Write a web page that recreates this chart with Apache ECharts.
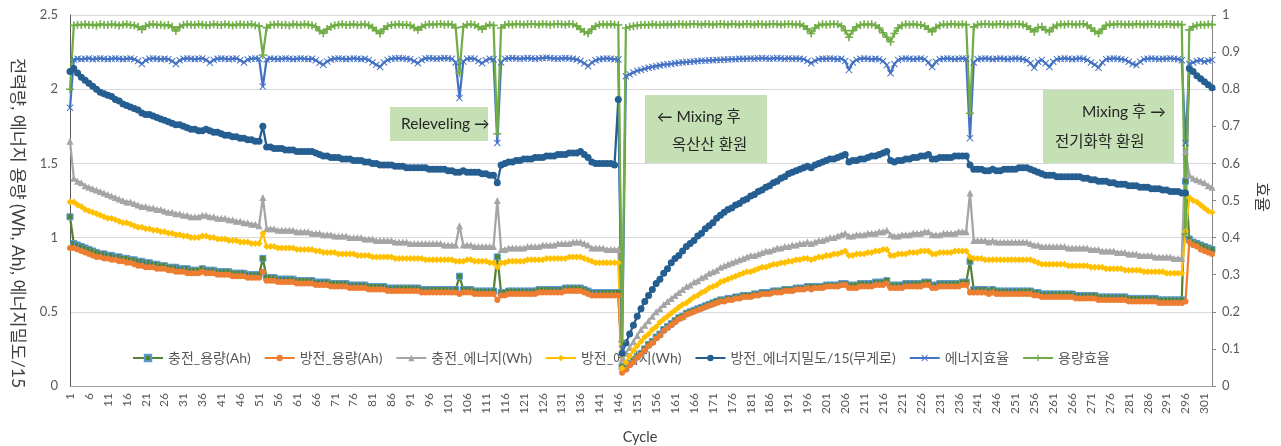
<!DOCTYPE html>
<html>
<head>
<meta charset="utf-8">
<script src="https://cdn.jsdelivr.net/npm/echarts@6/dist/echarts.min.js"></script>
<style>
  html, body { margin: 0; padding: 0; background: #ffffff; }
  #chart { width: 1281px; height: 446px; }
</style>
</head>
<body>
<div id="chart"></div>
<script>
// Cycle numbers 1..303 (category axis)
const cycles = Array.from({ length: 303 }, (_, i) => String(i + 1));

const leftTicks = { min: 0, max: 2.5, interval: 0.5 };
const rightTicks = { min: 0, max: 1, interval: 0.1 };

// 충전_용량(Ah)
const chargeCap = [
  1.14,0.96,0.95,0.94,0.93,0.92,0.91,0.90,0.89,0.89,
  0.88,0.88,0.87,0.87,0.86,0.86,0.85,0.85,0.84,0.84,
  0.83,0.83,0.82,0.82,0.81,0.81,0.80,0.80,0.80,0.79,
  0.79,0.79,0.78,0.78,0.78,0.79,0.78,0.78,0.78,0.77,
  0.77,0.77,0.77,0.76,0.76,0.76,0.76,0.75,0.75,0.75,
  0.75,0.86,0.73,0.73,0.73,0.72,0.72,0.72,0.72,0.72,
  0.71,0.71,0.71,0.71,0.71,0.70,0.70,0.70,0.70,0.69,
  0.69,0.69,0.69,0.69,0.68,0.68,0.68,0.68,0.68,0.67,
  0.67,0.67,0.67,0.67,0.66,0.66,0.66,0.66,0.66,0.66,
  0.66,0.66,0.66,0.65,0.65,0.65,0.65,0.65,0.65,0.65,
  0.65,0.65,0.65,0.74,0.65,0.65,0.65,0.64,0.64,0.64,
  0.64,0.64,0.64,0.87,0.63,0.63,0.64,0.64,0.64,0.64,
  0.64,0.64,0.64,0.64,0.65,0.65,0.65,0.65,0.65,0.65,
  0.65,0.66,0.66,0.66,0.66,0.66,0.65,0.64,0.63,0.63,
  0.63,0.63,0.63,0.63,0.63,0.63,0.13,0.12,0.15,0.17,
  0.20,0.22,0.25,0.28,0.30,0.33,0.35,0.38,0.40,0.42,
  0.44,0.46,0.47,0.49,0.50,0.51,0.52,0.53,0.54,0.55,
  0.56,0.57,0.58,0.58,0.59,0.59,0.60,0.60,0.61,0.61,
  0.61,0.62,0.62,0.63,0.63,0.63,0.64,0.64,0.64,0.65,
  0.65,0.65,0.66,0.66,0.66,0.67,0.67,0.67,0.67,0.67,
  0.68,0.68,0.68,0.68,0.69,0.69,0.68,0.68,0.68,0.69,
  0.69,0.69,0.69,0.70,0.70,0.70,0.71,0.68,0.68,0.68,
  0.68,0.69,0.69,0.69,0.69,0.69,0.70,0.70,0.68,0.68,
  0.69,0.69,0.69,0.69,0.69,0.69,0.70,0.70,0.84,0.65,
  0.65,0.65,0.65,0.64,0.65,0.64,0.64,0.64,0.64,0.64,
  0.64,0.64,0.64,0.64,0.64,0.63,0.63,0.62,0.62,0.62,
  0.62,0.62,0.62,0.62,0.62,0.62,0.61,0.61,0.61,0.61,
  0.61,0.61,0.60,0.60,0.60,0.60,0.60,0.60,0.60,0.60,
  0.59,0.59,0.59,0.59,0.59,0.59,0.59,0.59,0.58,0.58,
  0.58,0.58,0.58,0.58,0.58,1.38,0.99,0.97,0.96,0.95,
  0.94,0.93,0.92
];

// 방전_용량(Ah)
const dischargeCap = [
  0.93,0.93,0.92,0.91,0.90,0.89,0.88,0.87,0.87,0.86,
  0.86,0.85,0.85,0.84,0.84,0.83,0.83,0.82,0.81,0.81,
  0.80,0.80,0.80,0.79,0.79,0.79,0.78,0.78,0.77,0.77,
  0.77,0.76,0.76,0.76,0.76,0.77,0.76,0.76,0.76,0.75,
  0.75,0.75,0.75,0.74,0.74,0.74,0.74,0.73,0.73,0.73,
  0.73,0.77,0.71,0.71,0.71,0.70,0.70,0.70,0.70,0.70,
  0.69,0.69,0.69,0.69,0.69,0.68,0.68,0.68,0.68,0.67,
  0.67,0.67,0.67,0.67,0.66,0.66,0.66,0.66,0.66,0.65,
  0.65,0.65,0.65,0.65,0.64,0.64,0.64,0.64,0.64,0.64,
  0.64,0.64,0.64,0.63,0.63,0.63,0.63,0.63,0.63,0.63,
  0.63,0.63,0.63,0.62,0.63,0.63,0.63,0.62,0.62,0.62,
  0.62,0.62,0.62,0.58,0.61,0.61,0.62,0.62,0.62,0.62,
  0.62,0.62,0.62,0.62,0.63,0.63,0.63,0.63,0.63,0.63,
  0.63,0.64,0.64,0.64,0.64,0.64,0.63,0.62,0.61,0.61,
  0.61,0.61,0.61,0.61,0.61,0.61,0.09,0.11,0.14,0.16,
  0.19,0.21,0.24,0.27,0.29,0.32,0.34,0.37,0.39,0.41,
  0.43,0.45,0.46,0.48,0.49,0.50,0.51,0.52,0.53,0.54,
  0.55,0.56,0.57,0.57,0.58,0.58,0.59,0.59,0.60,0.60,
  0.60,0.61,0.61,0.62,0.62,0.62,0.63,0.63,0.63,0.64,
  0.64,0.64,0.65,0.65,0.65,0.66,0.65,0.66,0.66,0.66,
  0.67,0.67,0.67,0.67,0.68,0.68,0.66,0.66,0.66,0.67,
  0.67,0.67,0.67,0.68,0.68,0.68,0.69,0.66,0.66,0.66,
  0.66,0.67,0.67,0.67,0.67,0.67,0.68,0.68,0.66,0.66,
  0.67,0.67,0.67,0.67,0.67,0.67,0.68,0.68,0.63,0.63,
  0.63,0.63,0.63,0.62,0.63,0.62,0.62,0.62,0.62,0.62,
  0.62,0.62,0.62,0.62,0.62,0.61,0.61,0.60,0.60,0.60,
  0.60,0.60,0.60,0.60,0.60,0.60,0.59,0.59,0.59,0.59,
  0.59,0.59,0.58,0.58,0.58,0.58,0.58,0.58,0.58,0.58,
  0.57,0.57,0.57,0.57,0.57,0.57,0.57,0.57,0.56,0.56,
  0.56,0.56,0.56,0.56,0.56,0.57,0.97,0.95,0.94,0.92,
  0.91,0.90,0.89
];

// 충전_에너지(Wh)
const chargeEnergy = [
  1.65,1.40,1.38,1.37,1.35,1.34,1.33,1.32,1.31,1.30,
  1.29,1.28,1.27,1.26,1.25,1.24,1.24,1.23,1.22,1.21,
  1.21,1.20,1.20,1.19,1.19,1.18,1.17,1.17,1.16,1.16,
  1.15,1.15,1.14,1.14,1.14,1.15,1.15,1.14,1.14,1.13,
  1.13,1.13,1.12,1.12,1.11,1.11,1.10,1.10,1.09,1.09,
  1.08,1.27,1.06,1.06,1.06,1.05,1.05,1.05,1.05,1.05,
  1.04,1.04,1.04,1.04,1.03,1.03,1.03,1.02,1.02,1.02,
  1.01,1.01,1.01,1.01,1.00,1.00,1.00,1.00,0.99,0.99,
  0.99,0.98,0.98,0.98,0.98,0.98,0.97,0.97,0.97,0.97,
  0.96,0.96,0.96,0.96,0.96,0.96,0.96,0.96,0.96,0.95,
  0.95,0.95,0.95,1.08,0.95,0.95,0.95,0.94,0.94,0.94,
  0.94,0.94,0.94,1.25,0.92,0.92,0.93,0.93,0.93,0.93,
  0.93,0.94,0.94,0.94,0.94,0.95,0.95,0.95,0.95,0.96,
  0.96,0.96,0.96,0.97,0.97,0.97,0.96,0.95,0.93,0.93,
  0.93,0.93,0.92,0.92,0.92,0.92,0.18,0.22,0.26,0.30,
  0.34,0.38,0.41,0.44,0.47,0.50,0.52,0.55,0.57,0.59,
  0.61,0.63,0.65,0.67,0.68,0.70,0.71,0.73,0.74,0.76,
  0.77,0.78,0.80,0.81,0.82,0.83,0.84,0.85,0.86,0.87,
  0.88,0.88,0.89,0.90,0.91,0.91,0.92,0.93,0.93,0.94,
  0.94,0.95,0.95,0.96,0.96,0.97,0.96,0.97,0.98,0.98,
  0.99,1.00,1.00,1.01,1.02,1.03,1.01,1.01,1.02,1.02,
  1.02,1.03,1.03,1.03,1.04,1.04,1.05,1.02,1.01,1.01,
  1.02,1.02,1.02,1.03,1.03,1.03,1.04,1.04,1.02,1.02,
  1.02,1.03,1.03,1.03,1.03,1.04,1.04,1.04,1.30,0.98,
  0.98,0.98,0.98,0.97,0.98,0.97,0.97,0.97,0.97,0.97,
  0.97,0.97,0.97,0.97,0.96,0.95,0.95,0.94,0.94,0.94,
  0.94,0.94,0.94,0.94,0.93,0.93,0.93,0.93,0.93,0.93,
  0.92,0.92,0.92,0.91,0.91,0.91,0.91,0.90,0.90,0.90,
  0.89,0.89,0.89,0.88,0.88,0.88,0.88,0.87,0.87,0.87,
  0.87,0.87,0.86,0.86,0.86,1.58,1.42,1.40,1.39,1.38,
  1.37,1.35,1.34
];

// 방전_에너지(Wh)
const dischargeEnergy = [
  1.24,1.24,1.22,1.21,1.19,1.18,1.17,1.16,1.15,1.14,
  1.13,1.13,1.12,1.11,1.10,1.10,1.09,1.08,1.07,1.07,
  1.06,1.06,1.05,1.05,1.04,1.04,1.03,1.03,1.02,1.02,
  1.01,1.01,1.00,1.00,1.00,1.01,1.01,1.00,1.00,0.99,
  0.99,0.99,0.98,0.98,0.98,0.97,0.97,0.97,0.96,0.96,
  0.96,1.03,0.94,0.94,0.94,0.93,0.93,0.93,0.93,0.93,
  0.92,0.92,0.92,0.92,0.92,0.91,0.91,0.90,0.90,0.90,
  0.90,0.89,0.89,0.89,0.89,0.89,0.88,0.88,0.88,0.88,
  0.87,0.87,0.87,0.87,0.87,0.87,0.86,0.86,0.86,0.86,
  0.86,0.86,0.86,0.86,0.85,0.85,0.85,0.85,0.85,0.85,
  0.85,0.85,0.84,0.84,0.84,0.85,0.85,0.84,0.84,0.84,
  0.84,0.83,0.83,0.80,0.83,0.83,0.84,0.84,0.84,0.84,
  0.84,0.85,0.85,0.85,0.85,0.85,0.86,0.86,0.86,0.86,
  0.86,0.86,0.87,0.87,0.87,0.87,0.86,0.85,0.84,0.83,
  0.83,0.83,0.83,0.83,0.83,0.83,0.12,0.16,0.20,0.24,
  0.27,0.30,0.33,0.35,0.38,0.40,0.43,0.45,0.47,0.49,
  0.51,0.53,0.55,0.56,0.58,0.60,0.61,0.63,0.64,0.66,
  0.67,0.68,0.70,0.71,0.72,0.73,0.74,0.75,0.76,0.77,
  0.77,0.78,0.79,0.80,0.80,0.81,0.82,0.82,0.83,0.83,
  0.84,0.84,0.85,0.85,0.86,0.86,0.85,0.86,0.87,0.87,
  0.88,0.88,0.89,0.89,0.90,0.91,0.88,0.88,0.89,0.89,
  0.89,0.90,0.90,0.91,0.91,0.92,0.92,0.88,0.88,0.89,
  0.89,0.89,0.90,0.90,0.90,0.91,0.91,0.91,0.89,0.89,
  0.90,0.90,0.90,0.90,0.91,0.91,0.91,0.91,0.87,0.86,
  0.86,0.86,0.85,0.85,0.85,0.85,0.85,0.85,0.85,0.85,
  0.85,0.85,0.85,0.85,0.85,0.84,0.83,0.82,0.82,0.82,
  0.82,0.82,0.82,0.82,0.81,0.81,0.81,0.81,0.81,0.81,
  0.80,0.80,0.80,0.80,0.79,0.79,0.79,0.79,0.79,0.78,
  0.78,0.78,0.78,0.78,0.77,0.77,0.77,0.77,0.77,0.77,
  0.76,0.76,0.76,0.76,0.76,1.04,1.27,1.25,1.24,1.22,
  1.20,1.18,1.17
];

// 방전_에너지밀도/15(무게로)
const energyDensity = [
  2.12,2.14,2.11,2.08,2.06,2.04,2.02,2.00,1.98,1.97,
  1.96,1.95,1.93,1.92,1.90,1.89,1.88,1.87,1.86,1.84,
  1.83,1.83,1.82,1.81,1.80,1.79,1.78,1.77,1.76,1.76,
  1.75,1.74,1.73,1.73,1.72,1.72,1.73,1.72,1.71,1.71,
  1.70,1.69,1.69,1.68,1.68,1.67,1.67,1.66,1.66,1.65,
  1.65,1.75,1.61,1.61,1.60,1.60,1.60,1.59,1.59,1.59,
  1.58,1.58,1.58,1.58,1.58,1.57,1.56,1.55,1.55,1.54,
  1.54,1.54,1.53,1.53,1.53,1.52,1.52,1.52,1.51,1.51,
  1.50,1.50,1.49,1.49,1.49,1.49,1.48,1.48,1.48,1.47,
  1.47,1.47,1.47,1.47,1.47,1.46,1.46,1.46,1.46,1.46,
  1.45,1.45,1.44,1.44,1.45,1.44,1.44,1.44,1.44,1.43,
  1.43,1.42,1.42,1.37,1.49,1.50,1.51,1.51,1.52,1.52,
  1.53,1.53,1.53,1.54,1.54,1.54,1.55,1.55,1.55,1.56,
  1.56,1.56,1.57,1.57,1.57,1.58,1.56,1.54,1.51,1.50,
  1.50,1.50,1.50,1.50,1.49,1.93,0.22,0.29,0.35,0.41,
  0.47,0.52,0.57,0.61,0.65,0.69,0.72,0.76,0.79,0.83,
  0.86,0.88,0.91,0.94,0.96,0.98,1.01,1.03,1.06,1.08,
  1.10,1.13,1.15,1.17,1.19,1.20,1.22,1.23,1.25,1.26,
  1.28,1.29,1.31,1.32,1.34,1.35,1.37,1.38,1.40,1.41,
  1.43,1.44,1.45,1.46,1.47,1.48,1.47,1.49,1.50,1.51,
  1.52,1.53,1.53,1.54,1.55,1.56,1.51,1.52,1.52,1.53,
  1.53,1.54,1.55,1.55,1.56,1.57,1.58,1.52,1.51,1.52,
  1.52,1.53,1.53,1.54,1.54,1.55,1.55,1.56,1.53,1.53,
  1.54,1.54,1.54,1.54,1.55,1.55,1.55,1.55,1.49,1.46,
  1.46,1.46,1.45,1.45,1.46,1.45,1.45,1.46,1.46,1.46,
  1.46,1.47,1.47,1.47,1.46,1.45,1.44,1.43,1.42,1.42,
  1.42,1.41,1.41,1.41,1.41,1.41,1.41,1.41,1.40,1.40,
  1.39,1.39,1.38,1.38,1.38,1.37,1.37,1.36,1.36,1.36,
  1.35,1.35,1.35,1.34,1.34,1.34,1.33,1.33,1.33,1.32,
  1.32,1.31,1.31,1.31,1.30,1.30,2.14,2.12,2.09,2.07,
  2.05,2.03,2.01
];

// 에너지효율 (right axis)
const energyEff = [
  0.750,0.880,0.882,0.881,0.882,0.883,0.881,0.882,0.883,0.882,
  0.881,0.882,0.883,0.882,0.881,0.882,0.883,0.881,0.876,0.868,
  0.878,0.882,0.883,0.882,0.881,0.882,0.881,0.876,0.868,0.878,
  0.882,0.883,0.882,0.881,0.882,0.883,0.879,0.871,0.879,0.882,
  0.883,0.882,0.881,0.882,0.883,0.878,0.872,0.880,0.882,0.883,
  0.882,0.807,0.880,0.883,0.882,0.881,0.882,0.883,0.882,0.881,
  0.882,0.883,0.882,0.881,0.882,0.878,0.871,0.866,0.875,0.880,
  0.882,0.883,0.882,0.881,0.882,0.883,0.882,0.881,0.882,0.879,
  0.872,0.866,0.860,0.872,0.879,0.882,0.883,0.884,0.883,0.882,
  0.881,0.876,0.870,0.879,0.883,0.884,0.883,0.882,0.883,0.884,
  0.883,0.882,0.872,0.776,0.875,0.882,0.883,0.882,0.876,0.870,
  0.878,0.882,0.880,0.655,0.872,0.882,0.883,0.884,0.883,0.882,
  0.883,0.884,0.883,0.882,0.883,0.884,0.885,0.884,0.883,0.882,
  0.883,0.884,0.883,0.882,0.880,0.876,0.870,0.862,0.872,0.878,
  0.881,0.882,0.883,0.882,0.881,0.880,0.100,0.835,0.840,0.845,
  0.850,0.852,0.855,0.858,0.860,0.862,0.864,0.866,0.867,0.868,
  0.870,0.871,0.872,0.873,0.874,0.875,0.876,0.877,0.877,0.878,
  0.878,0.879,0.879,0.880,0.880,0.881,0.881,0.882,0.882,0.882,
  0.883,0.882,0.883,0.884,0.883,0.882,0.883,0.884,0.883,0.882,
  0.883,0.882,0.883,0.882,0.881,0.876,0.870,0.877,0.881,0.882,
  0.882,0.883,0.882,0.881,0.882,0.876,0.852,0.872,0.879,0.882,
  0.883,0.882,0.881,0.882,0.881,0.876,0.865,0.843,0.868,0.879,
  0.882,0.883,0.882,0.881,0.882,0.883,0.881,0.872,0.860,0.874,
  0.881,0.882,0.883,0.882,0.881,0.882,0.883,0.882,0.668,0.872,
  0.881,0.882,0.883,0.882,0.881,0.882,0.883,0.882,0.881,0.882,
  0.883,0.882,0.881,0.878,0.870,0.858,0.874,0.879,0.870,0.860,
  0.874,0.881,0.882,0.883,0.882,0.881,0.882,0.883,0.882,0.879,
  0.872,0.866,0.858,0.872,0.881,0.882,0.883,0.882,0.881,0.879,
  0.874,0.868,0.865,0.874,0.881,0.882,0.883,0.882,0.881,0.882,
  0.882,0.883,0.882,0.881,0.878,0.655,0.868,0.872,0.876,0.878,
  0.874,0.877,0.879
];

// 용량효율 (right axis)
const capacityEff = [
  0.800,0.972,0.974,0.973,0.975,0.973,0.974,0.972,0.975,0.974,
  0.973,0.975,0.974,0.972,0.974,0.975,0.973,0.972,0.968,0.961,
  0.970,0.974,0.975,0.973,0.974,0.972,0.973,0.968,0.957,0.968,
  0.973,0.975,0.974,0.973,0.975,0.974,0.972,0.973,0.975,0.974,
  0.973,0.975,0.974,0.972,0.974,0.975,0.973,0.974,0.975,0.972,
  0.970,0.892,0.966,0.973,0.974,0.975,0.973,0.974,0.972,0.975,
  0.974,0.973,0.975,0.974,0.972,0.968,0.958,0.951,0.962,0.968,
  0.972,0.974,0.975,0.973,0.974,0.975,0.973,0.974,0.975,0.972,
  0.966,0.958,0.950,0.962,0.970,0.973,0.974,0.975,0.973,0.974,
  0.972,0.966,0.960,0.968,0.973,0.975,0.974,0.975,0.976,0.974,
  0.975,0.974,0.966,0.843,0.968,0.974,0.975,0.973,0.968,0.962,
  0.970,0.974,0.972,0.680,0.965,0.973,0.975,0.974,0.976,0.975,
  0.974,0.975,0.976,0.975,0.974,0.976,0.975,0.974,0.975,0.976,
  0.975,0.974,0.976,0.975,0.970,0.962,0.955,0.950,0.962,0.970,
  0.974,0.975,0.974,0.975,0.974,0.973,0.120,0.965,0.968,0.970,
  0.972,0.973,0.974,0.973,0.975,0.974,0.973,0.975,0.974,0.975,
  0.974,0.976,0.975,0.974,0.975,0.976,0.975,0.974,0.976,0.975,
  0.974,0.975,0.976,0.975,0.974,0.976,0.975,0.974,0.975,0.976,
  0.975,0.974,0.976,0.975,0.974,0.975,0.976,0.975,0.974,0.975,
  0.976,0.975,0.974,0.975,0.970,0.962,0.950,0.965,0.972,0.975,
  0.974,0.975,0.976,0.975,0.970,0.958,0.940,0.958,0.968,0.973,
  0.975,0.974,0.975,0.972,0.965,0.952,0.940,0.928,0.950,0.965,
  0.972,0.975,0.974,0.975,0.974,0.973,0.970,0.962,0.955,0.966,
  0.972,0.975,0.974,0.976,0.975,0.974,0.975,0.974,0.735,0.968,
  0.974,0.975,0.976,0.975,0.974,0.975,0.976,0.975,0.974,0.975,
  0.976,0.975,0.974,0.970,0.962,0.955,0.966,0.968,0.960,0.955,
  0.966,0.972,0.975,0.974,0.976,0.975,0.974,0.975,0.976,0.972,
  0.965,0.956,0.950,0.962,0.972,0.975,0.974,0.976,0.975,0.974,
  0.975,0.974,0.976,0.975,0.974,0.975,0.976,0.975,0.974,0.975,
  0.976,0.975,0.974,0.975,0.974,0.410,0.960,0.968,0.972,0.974,
  0.973,0.975,0.974
];

const FONT = "Lato, 'Noto Sans CJK KR', sans-serif";
const TEXT_GREY = '#595959';

const crossSymbol = 'path://M1,0L5,4L9,0L10,1L6,5L10,9L9,10L5,6L1,10L0,9L4,5L0,1Z';
const plusSymbol = 'path://M4,0H6V4H10V6H6V10H4V6H0V4H4Z';

function line(name, data, color, symbol, size, yAxisIndex, itemExtra) {
  return {
    name: name,
    type: 'line',
    data: data,
    yAxisIndex: yAxisIndex,
    symbol: symbol,
    symbolSize: size,
    showAllSymbol: true,
    animation: false,
    z: 2,
    lineStyle: { color: color, width: 2.25 },
    itemStyle: Object.assign({ color: color }, itemExtra || {}),
    emphasis: { disabled: true }
  };
}

const series = [
  line('충전_용량(Ah)', chargeCap, '#548235', 'rect', 6, 0, { borderColor: '#5B9BD5', borderWidth: 1 }),
  line('방전_용량(Ah)', dischargeCap, '#ED7D31', 'circle', 6, 0),
  line('충전_에너지(Wh)', chargeEnergy, '#A5A5A5', 'triangle', 7, 0),
  line('방전_에너지(Wh)', dischargeEnergy, '#FFC000', 'diamond', 7, 0),
  line('방전_에너지밀도/15(무게로)', energyDensity, '#255E91', 'circle', 7, 0),
  line('에너지효율', energyEff, '#4472C4', crossSymbol, 7, 1),
  line('용량효율', capacityEff, '#70AD47', plusSymbol, 8, 1)
];

function noteBox(x, y, w, h) {
  return { type: 'rect', z: 10, shape: { x: x, y: y, width: w, height: h }, style: { fill: '#C5E0B4' } };
}
function noteText(x, y, text) {
  return {
    type: 'text', z: 11, x: x, y: y,
    style: { text: text, fontSize: 15.5, fontFamily: FONT, fill: '#262626', align: 'left', verticalAlign: 'middle' }
  };
}

const chart = echarts.init(document.getElementById('chart'), null, { renderer: 'canvas' });
chart.setOption({
  backgroundColor: '#ffffff',
  animation: false,
  textStyle: { fontFamily: FONT },
  grid: { left: 70, right: 69, top: 15, bottom: 60, containLabel: false },
  legend: {
    z: 1,
    left: 127,
    top: 346,
    itemWidth: 30,
    itemHeight: 8,
    itemGap: 13,
    selectedMode: false,
    textStyle: { color: TEXT_GREY, fontSize: 14, fontFamily: FONT },
    data: series.map(s => s.name)
  },
  xAxis: {
    type: 'category',
    data: cycles,
    boundaryGap: false,
    axisLine: { show: true, lineStyle: { color: '#A6A6A6', width: 1 } },
    axisTick: { show: false },
    axisLabel: { interval: 4, rotate: 90, margin: 7, color: TEXT_GREY, fontSize: 12, fontFamily: FONT },
    splitLine: { show: false }
  },
  yAxis: [
    {
      type: 'value',
      min: leftTicks.min, max: leftTicks.max, interval: leftTicks.interval,
      axisLine: { show: true, lineStyle: { color: '#595959', width: 1 } },
      axisTick: { show: false },
      axisLabel: { color: TEXT_GREY, fontSize: 13, margin: 12, fontFamily: FONT },
      splitLine: { show: true, lineStyle: { color: '#D9D9D9', width: 1 } }
    },
    {
      type: 'value',
      position: 'right',
      min: rightTicks.min, max: rightTicks.max, interval: rightTicks.interval,
      axisLine: { show: true, lineStyle: { color: '#868686', width: 1 } },
      axisTick: { show: true, inside: false, length: 4, lineStyle: { color: '#868686' } },
      axisLabel: { color: TEXT_GREY, fontSize: 13, margin: 10, fontFamily: FONT },
      splitLine: { show: false }
    }
  ],
  series: series,
  graphic: [
    { type: 'text', x: 18, y: 223, rotation: -Math.PI / 2,
      style: { text: '전력량, 에너지 용량 (Wh, Ah), 에너지밀도/15', fontSize: 17.5, fontFamily: FONT, fill: '#404040', align: 'center', verticalAlign: 'middle' } },
    { type: 'text', x: 1262, y: 197, rotation: -Math.PI / 2,
      style: { text: '효율', fontSize: 16, fontFamily: FONT, fill: '#404040', align: 'center', verticalAlign: 'middle' } },
    { type: 'text', x: 640, y: 437,
      style: { text: 'Cycle', fontSize: 14.5, fontFamily: FONT, fill: '#404040', align: 'center', verticalAlign: 'middle' } },
    noteBox(390, 107, 98, 34),
    noteText(401, 124, 'Releveling →'),
    noteBox(645, 95, 122, 68),
    noteText(657, 117, '← Mixing 후'),
    noteText(672, 145, '옥산산 환원'),
    noteBox(1043, 90, 131, 73),
    noteText(1082, 112, 'Mixing 후 →'),
    noteText(1055, 142, '전기화학 환원')
  ]
});
</script>
</body>
</html>
